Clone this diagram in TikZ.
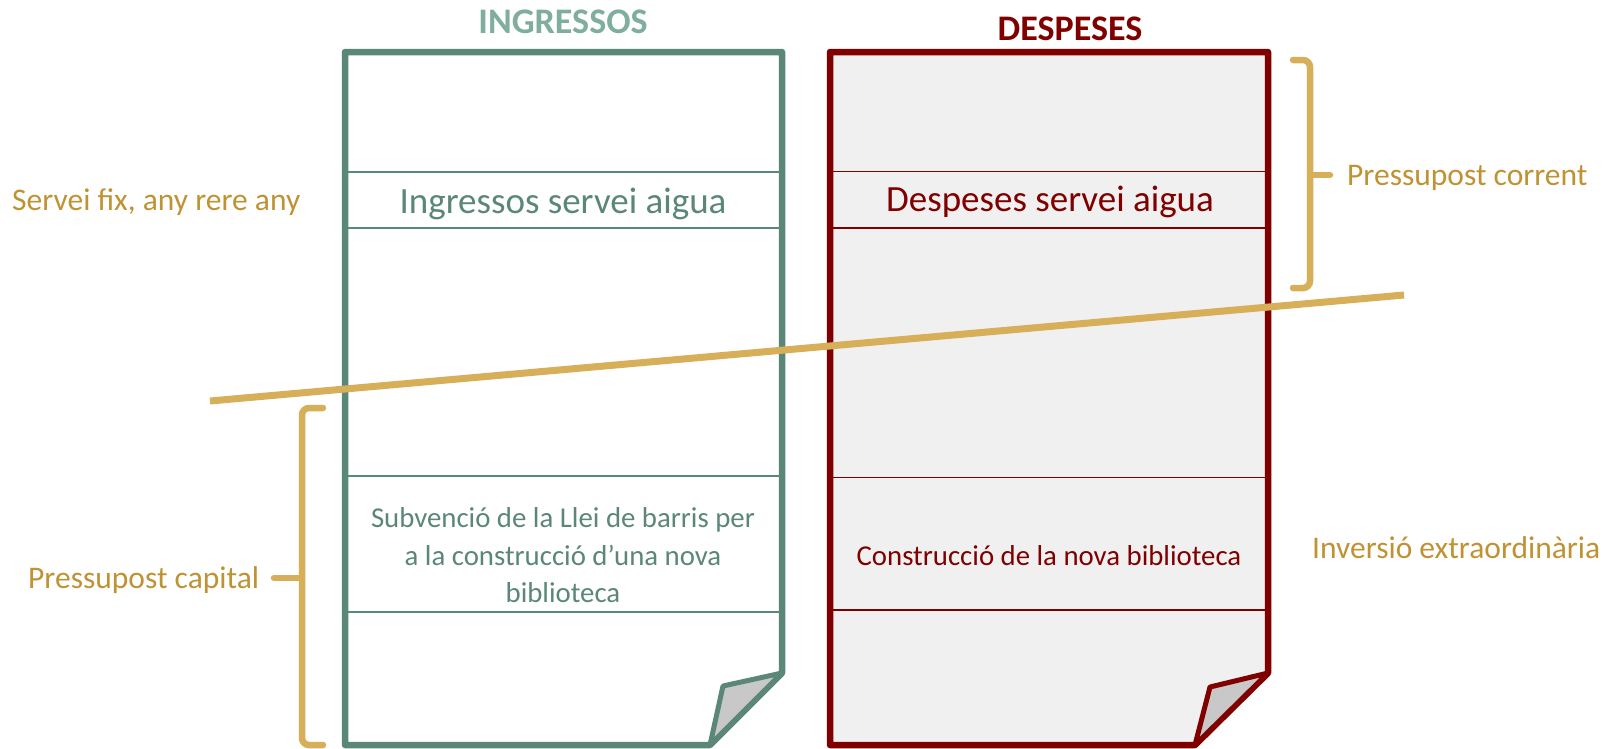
\documentclass[tikz,border=0pt]{standalone}
\usepackage{fontspec}
\setmainfont{Carlito}
\definecolor{grn}{HTML}{5A8778}
\definecolor{grnt}{HTML}{80AE9E}
\definecolor{dred}{HTML}{800000}
\definecolor{gold}{HTML}{D6AF58}
\definecolor{goldt}{HTML}{BF9233}
\definecolor{pagefill}{HTML}{F0F0F0}
\definecolor{flapfill}{HTML}{C8C8C8}
\tikzset{
  title/.style={font=\fontsize{36}{42}\selectfont\bfseries, anchor=base, inner sep=0},
  bigtxt/.style={font=\fontsize{37}{44}\selectfont, anchor=base, inner sep=0},
  midtxt/.style={font=\fontsize{28.8}{36}\selectfont, anchor=base, inner sep=0},
  sidetxt/.style={font=\fontsize{31.5}{38}\selectfont, text=goldt, anchor=base west, inner sep=0},
  pageline/.style={line width=6.5, line join=round},
  rowline/.style={line width=#1},
  bracestyle/.style={draw=gold, line width=6.5, rounded corners=7, line cap=round},
}
\begin{document}
\begin{tikzpicture}[x=1pt,y=-1pt]
\useasboundingbox (0,0) rectangle (1610,748);

% titles
\node[title, text=grnt] (tin) at (563,33) {INGRESSOS};
\node[title, text=dred] (tde) at (1070,40) {DESPESES};

% green page
\fill[white] (345,52) -- (782,52) -- (782,673) -- (710,745) -- (345,745) -- cycle;
\draw[grn, rowline=2] (345,171.5) -- (782,171.5);
\draw[grn, rowline=2] (345,228) -- (782,228);
\draw[grn, rowline=2] (345,476) -- (782,476);
\draw[grn, rowline=2] (345,612) -- (782,612);
\draw[grn, pageline] (345,52) -- (782,52) -- (782,673) -- (710,745) -- (345,745) -- cycle;
\draw[grn, line width=5, line join=round, fill=flapfill] (782,673) -- (723,686) -- (710,745) -- cycle;

% red page
\fill[pagefill] (830,52) -- (1268,52) -- (1268,673) -- (1195,745) -- (830,745) -- cycle;
\draw[dred, rowline=1.2] (830,171.5) -- (1268,171.5);
\draw[dred, rowline=1.2] (830,228) -- (1268,228);
\draw[dred, rowline=1.2] (830,477.5) -- (1268,477.5);
\draw[dred, rowline=1.2] (830,610) -- (1268,610);
\draw[dred, pageline] (830,52) -- (1268,52) -- (1268,673) -- (1195,745) -- (830,745) -- cycle;
\draw[dred, line width=5, line join=round, fill=flapfill] (1268,673) -- (1210,687) -- (1195,745) -- cycle;

% texts in pages
\node[bigtxt, text=grn] (ing) at (563,213) {Ingressos servei aigua};
\node[bigtxt, text=dred] (des) at (1050,211) {Despeses servei aigua};
\node[midtxt, text=grn] (sub1) at (563,527) {Subvenció de la Llei de barris per};
\node[midtxt, text=grn] (sub2) at (563,565) {a la construcció d’una nova};
\node[midtxt, text=grn] (sub3) at (563,602) {biblioteca};
\node[midtxt, text=dred] (con) at (1049,565) {Construcció de la nova biblioteca};

% side labels
\node[sidetxt] (fix) at (12,210) {Servei fix, any rere any};
\node[sidetxt] (cap) at (28,588) {Pressupost capital};
\node[sidetxt] (cor) at (1347,185) {Pressupost corrent};
\node[sidetxt] (inv) at (1312,558) {Inversió extraordinària};

% diagonal divider
\coordinate (d1) at (210,401);
\coordinate (d2) at (1404,295);
\draw[gold, line width=7] (d1) -- (d2);

% left brace
\draw[bracestyle] (323,408) -- (302,408) -- (302,745) -- (323,745);
\draw[bracestyle, rounded corners=0] (302,578) -- (274,578);

% right brace
\draw[bracestyle] (1293,60) -- (1310,60) -- (1310,288) -- (1293,288);
\draw[bracestyle, rounded corners=0] (1310,175) -- (1330,175);
\end{tikzpicture}
\end{document}
